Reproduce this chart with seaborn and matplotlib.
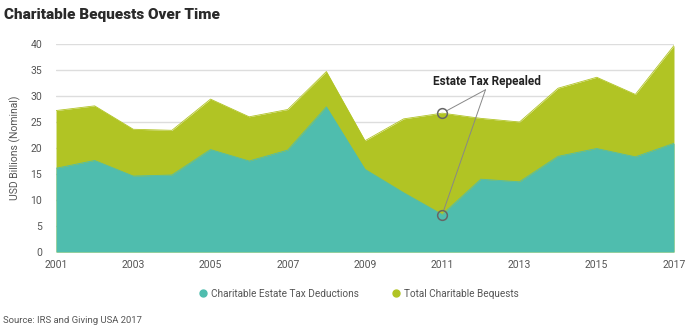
import matplotlib
matplotlib.use("Agg")
import matplotlib.pyplot as plt
from matplotlib.lines import Line2D
import seaborn as sns
import pandas as pd

# Charitable bequests, USD billions (nominal)
years = [2001, 2002, 2003, 2004, 2005, 2006, 2007, 2008, 2009,
         2010, 2011, 2012, 2013, 2014, 2015, 2016, 2017]
total_bequests = [27.2, 28.1, 23.6, 23.4, 29.4, 26.0, 27.4, 34.7, 21.4,
                  25.6, 26.7, 25.7, 25.0, 31.5, 33.6, 30.3, 39.7]
estate_deductions = [16.1, 17.6, 14.6, 14.8, 19.7, 17.5, 19.6, 27.9, 15.9,
                     11.4, 7.2, 14.0, 13.5, 18.4, 19.9, 18.3, 20.9]
series_names = ["Charitable Estate Tax Deductions", "Total Charitable Bequests"]
xtick_years = [2001, 2003, 2005, 2007, 2009, 2011, 2013, 2015, 2017]
ytick_values = [0, 5, 10, 15, 20, 25, 30, 35, 40]
repeal_year = 2011

TEAL = "#4fbdae"
GREEN = "#b1c424"
TEXT = "#555555"

df = pd.DataFrame({"year": years, "total": total_bequests,
                   "deductions": estate_deductions})

sns.set_theme(style="whitegrid")
plt.rcParams["font.family"] = ["Roboto", "DejaVu Sans"]

fig = plt.figure(figsize=(6.9, 3.28), dpi=100)
ax = fig.add_axes([0.0812, 0.2317, 0.8956, 0.6342])

# Overlapping areas: total bequests behind, estate-tax deductions in front
ax.fill_between(df["year"], 0, df["total"], color=GREEN, linewidth=0, zorder=2)
ax.fill_between(df["year"], 0, df["deductions"], color=TEAL, linewidth=0, zorder=3)
sns.lineplot(data=df, x="year", y="total", color=GREEN, linewidth=0.6, ax=ax, zorder=2)
sns.lineplot(data=df, x="year", y="deductions", color=TEAL, linewidth=0.6, ax=ax, zorder=3)

ax.set_xlim(years[0], years[-1])
ax.set_ylim(0, 40)
ax.set_xticks(xtick_years)
ax.set_xticklabels([str(y) for y in xtick_years])
ax.set_yticks(ytick_values)
ax.grid(axis="y", color="#dddddd", linewidth=1.0, zorder=0)
ax.grid(axis="x", visible=False)
for s in ax.spines.values():
    s.set_visible(False)
ax.tick_params(axis="both", length=0, labelsize=7.5, labelcolor=TEXT)
ax.tick_params(axis="x", pad=6)
ax.tick_params(axis="y", pad=10)
ax.set_xlabel("")
ax.set_ylabel("USD Billions (Nominal)", fontsize=7.5, color=TEXT, labelpad=7)

# Annotation: estate tax repeal
i = years.index(repeal_year)
pts = [(repeal_year, total_bequests[i]), (repeal_year, estate_deductions[i])]
for px, py in pts:
    ax.plot(px, py, marker="o", markersize=7, markerfacecolor="none",
            markeredgecolor="#666666", markeredgewidth=1.1, zorder=6)
    ax.annotate("", xy=(px, py), xytext=(2012.12, 31.2),
                arrowprops=dict(arrowstyle="-", color="#888888", lw=0.7,
                                shrinkA=0, shrinkB=3.5), zorder=5)
ax.text(2012.15, 32.8, "Estate Tax Repealed", ha="center", va="center",
        fontsize=8.5, fontweight="bold", color="#222222", zorder=6)

# Legend
handles = [Line2D([], [], marker="o", linestyle="none", markersize=5,
                  markerfacecolor=c, markeredgecolor=c) for c in (TEAL, GREEN)]
fig.legend(handles, series_names, loc="center", bbox_to_anchor=(0.52, 0.104),
           ncol=2, frameon=False, fontsize=7.2, labelcolor=TEXT,
           handletextpad=0.3, columnspacing=3.2, handlelength=1.0)

fig.text(0.006, 0.955, "Charitable Bequests Over Time", fontsize=11,
         fontweight=900, color="#2a2a2a", ha="left", va="center")
fig.text(0.004, 0.024, "Source: IRS and Giving USA 2017", fontsize=6.8,
         color=TEXT, ha="left", va="center")

fig.savefig("out.png", dpi=100)
